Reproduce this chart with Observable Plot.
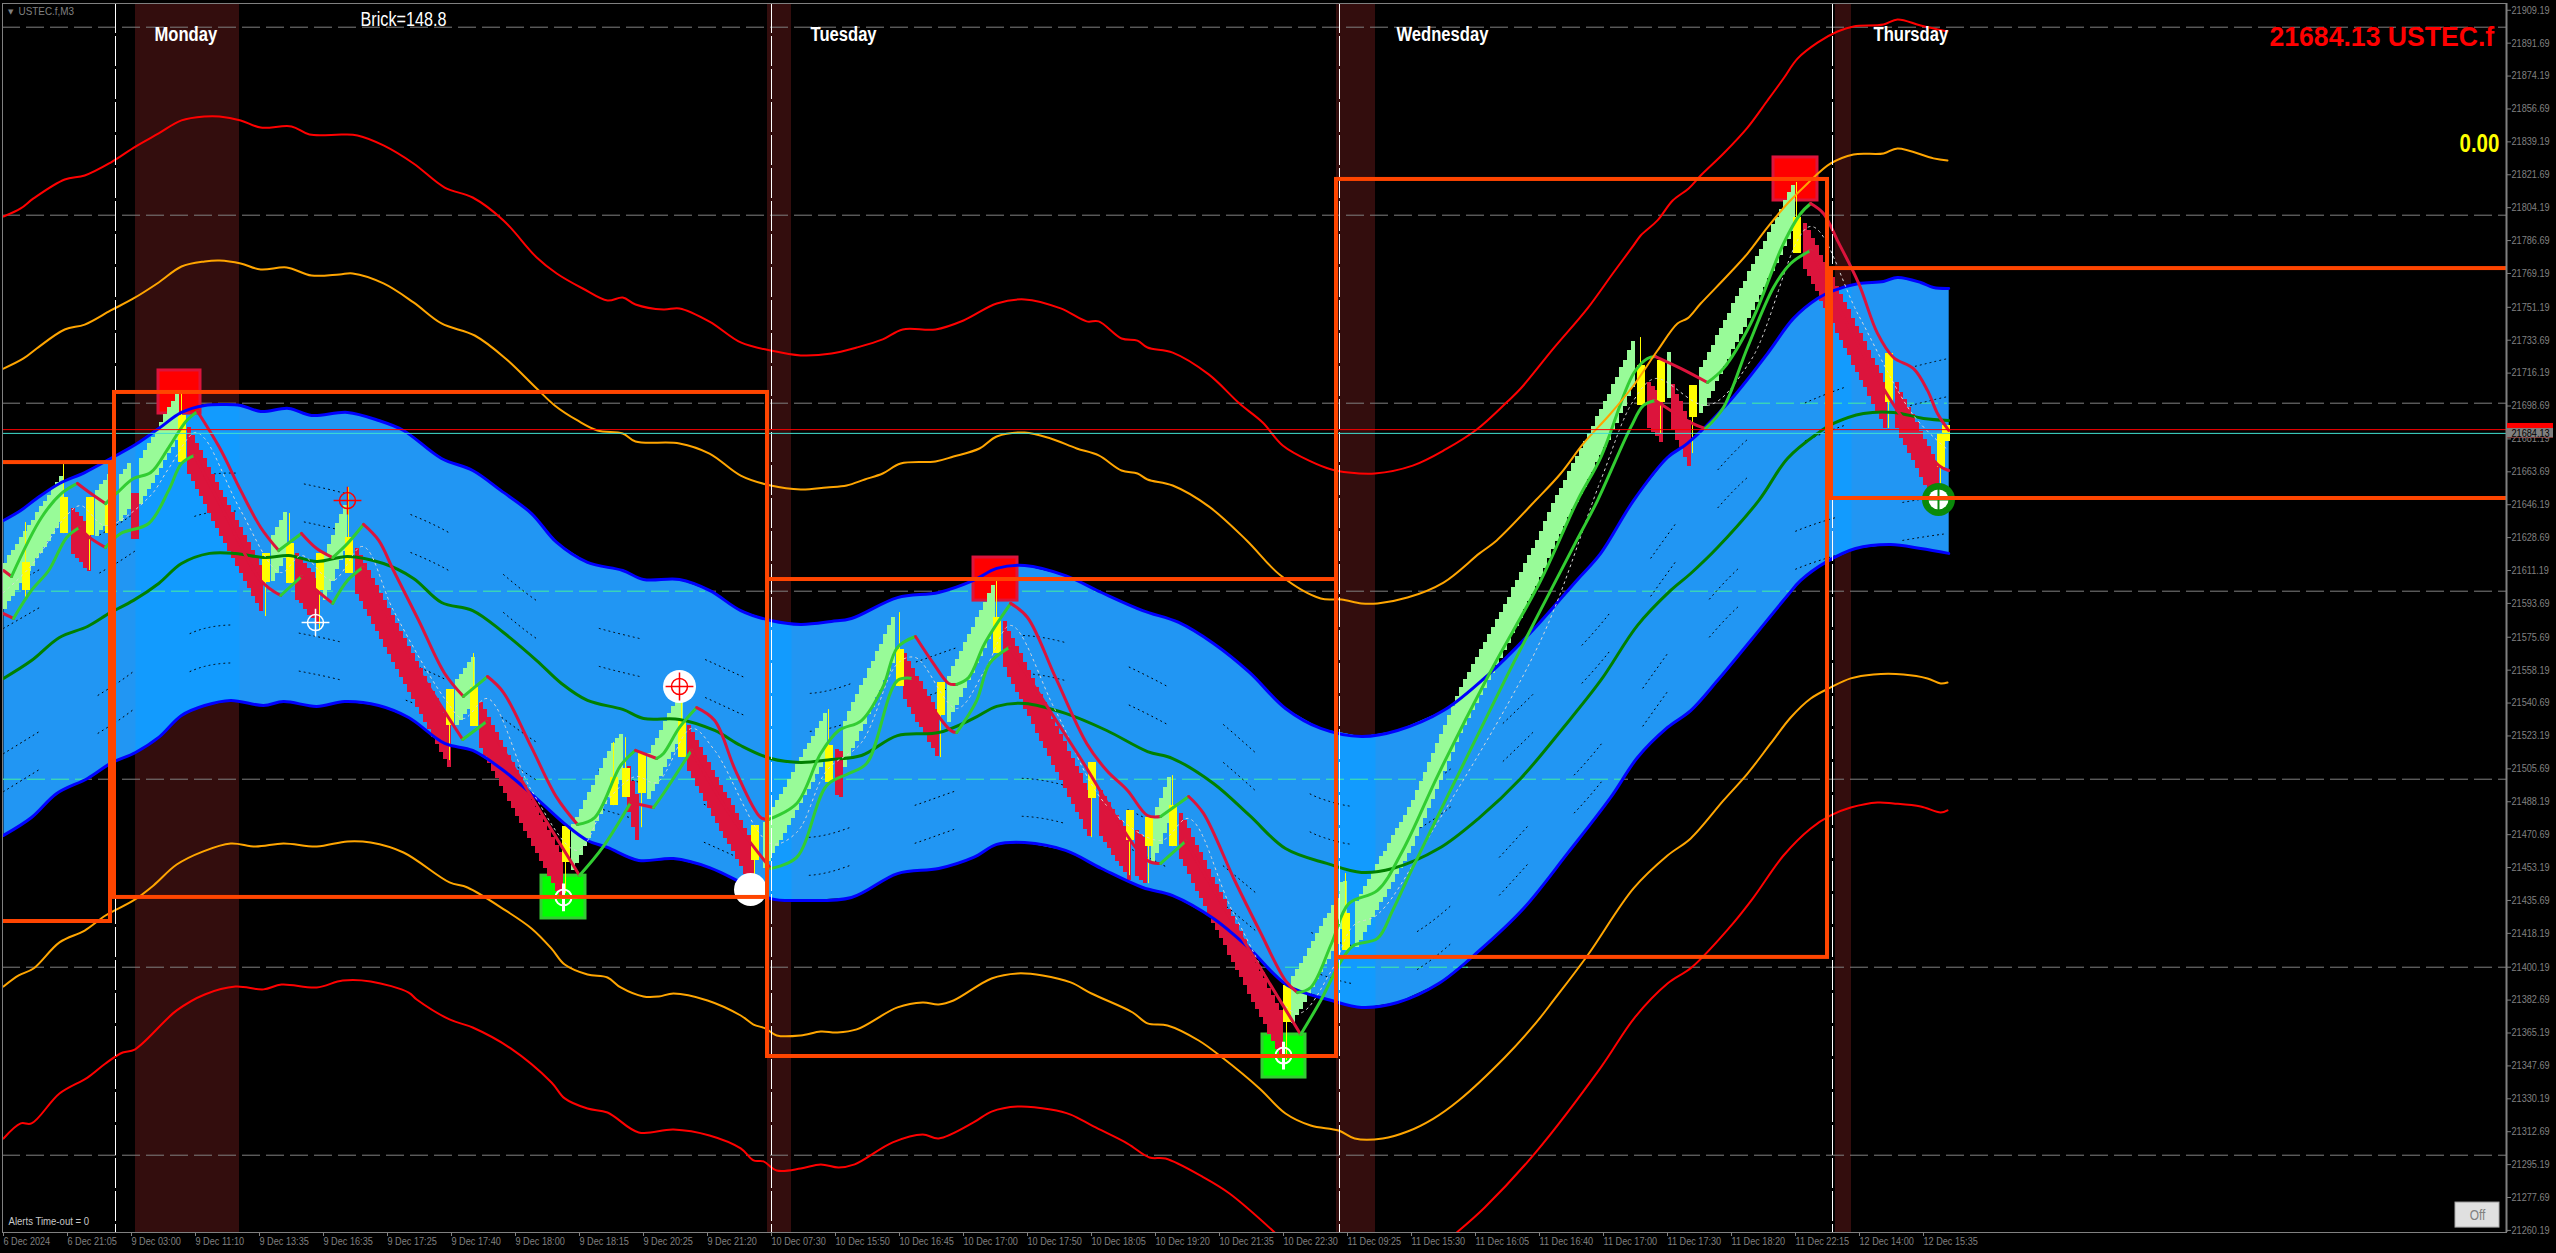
<!DOCTYPE html>
<html><head><meta charset="utf-8">
<style>html,body{margin:0;padding:0;background:#000;overflow:hidden}svg{display:block}</style>
<script src="https://cdn.jsdelivr.net/npm/d3@7"></script>
<script src="https://cdn.jsdelivr.net/npm/@observablehq/plot@0.6"></script>
</head><body><div id="c"></div>
<script>
const xTickLabels=["6 Dec 2024","6 Dec 21:05","9 Dec 03:00","9 Dec 11:10","9 Dec 13:35","9 Dec 16:35","9 Dec 17:25","9 Dec 17:40","9 Dec 18:00","9 Dec 18:15","9 Dec 20:25","9 Dec 21:20","10 Dec 07:30","10 Dec 15:50","10 Dec 16:45","10 Dec 17:00","10 Dec 17:50","10 Dec 18:05","10 Dec 19:20","10 Dec 21:35","10 Dec 22:30","11 Dec 09:25","11 Dec 15:30","11 Dec 16:05","11 Dec 16:40","11 Dec 17:00","11 Dec 17:30","11 Dec 18:20","11 Dec 22:15","12 Dec 14:00","12 Dec 15:35"];
const xTickBars=[0,16,32,48,64,80,96,112,128,144,160,176,192,208,224,240,256,272,288,304,320,336,352,368,384,400,416,432,448,464,480];
const yTicks=[21909.19,21891.69,21874.19,21856.69,21839.19,21821.69,21804.19,21786.69,21769.19,21751.19,21733.69,21716.19,21698.69,21681.19,21663.69,21646.19,21628.69,21611.19,21593.69,21575.69,21558.19,21540.69,21523.19,21505.69,21488.19,21470.69,21453.19,21435.69,21418.19,21400.19,21382.69,21365.19,21347.69,21330.19,21312.69,21295.19,21277.69,21260.19];
const gridPrices=[21900.19,21800.19,21700.19,21600.19,21500.19,21400.19,21300.19];
const gridOnBandPrice=[21700.19,21600.19,21600.19,21600.19,21500.19,21500.19,21400.19];
const gridOnBandFrom=[431.25,0,236.75,391.75,0,126.75,320.5];
const gridOnBandTo=[486,175.5,274.5,446.75,21,405,366.25];
const dayLabels=["Monday","Tuesday","Wednesday","Thursday"];
const dayLabelBars=[37.75,201.75,348.25,467.5];
const daySeparators=[28,192,334,457.25];
const shadeFrom=[33,191,333.25,458];
const shadeTo=[59,197,343,462];
const boxFrom=[-3,27.75,191,333.25,457];
const boxTo=[26.75,191,333.25,456,640];
const boxHigh=[21668.6,21705.9,21606.4,21819.2,21771.8];
const boxLow=[21424.5,21437.3,21352.7,21405.4,21649.5];

const redUpperBars=[0,4.3,7.5,15.3,20.3,26.8,33,38.8,44.5,50.3,54,59.3,64.3,72,76.5,84.8,88.5,95,102.5,110.3,117.3,125,133.3,138.3,144.8,151,154.8,158,165,169,176.5,184.3,191.8,199.3,207,213.3,219.8,224.8,233,240,248.3,255.3,264.3,270.8,273.8,279.5,283.5,286,292.3,301.3,309,314.8,319.8,326.8,332,336.3,342.8,352.3,360.5,368.3,376,379.3,387.5,396,402.5,407.5,409.3,413.5,417.3,421.3,424.3,430,436,441,445,448.5,453.5,458.5,462.5,470,473.5,479.3,486];
const redUpper=[21799.5,21803.8,21809.1,21819.2,21821.3,21828.2,21836.7,21843.7,21850.6,21852.7,21852.7,21850.6,21846.8,21847.4,21843.1,21843.1,21842.6,21837.3,21827.7,21814.9,21809.6,21797.4,21777.7,21769.2,21761.2,21754.8,21756.4,21752.7,21750,21750.6,21743.6,21732.5,21728.2,21725.6,21726.6,21729.8,21734.1,21739.4,21739.4,21744.2,21753.2,21755.4,21750.6,21743.7,21743.7,21734.6,21733.5,21729.8,21727.1,21715.5,21700,21689.9,21677.7,21669.2,21664.9,21663.3,21662.8,21667,21675.6,21686.2,21701.1,21708,21729.3,21750.6,21769.7,21784.1,21789.4,21797.4,21808,21814.4,21821.3,21833,21846.8,21861.2,21872.9,21883.5,21892,21897.9,21900.6,21901.6,21904.3,21901.1,21897.9];
const orangeUpperBars=[0,5,8.3,15.3,20.3,26.8,32.5,38.8,44.5,50.3,54,59.3,64.3,70.8,77,84,87.3,95,102.5,109.5,117.8,125.5,133.3,137.8,143.5,148.5,154.8,158,169,176.5,184.3,191.8,199.3,205.8,210.8,215.3,219.8,224.3,233,237.5,244,248.3,255.3,261.8,268.3,273.8,279.5,283.5,286,292.3,301.3,310.8,319.3,329.3,334.5,339.5,343.5,351,360,369,373.3,383,389.3,395,401.8,407.5,413.5,418.5,421,424.3,431,436,441,446,451,456.8,462.5,470,473.5,482.5,486];
const orangeUpper=[21718.6,21724,21729.3,21739.4,21742,21749.5,21755.9,21764.4,21772.9,21775.6,21776.1,21774.5,21771.3,21772.4,21768.1,21768.7,21769.2,21763.9,21753.8,21742.6,21736.2,21724,21708,21699,21691,21685.7,21684.1,21679.8,21678.8,21673.4,21661.7,21656.4,21654.3,21655.4,21656.4,21659.6,21662.8,21668.1,21669.2,21671.8,21676.1,21682.5,21684.6,21681.4,21676.1,21672.4,21664.4,21662.8,21659.6,21656.4,21645.3,21627.2,21608.5,21596.3,21595.8,21593.7,21593.7,21596.8,21604.8,21620.3,21627.2,21648.4,21662.8,21678.8,21694.7,21709.6,21728.2,21742.6,21745.3,21753.2,21768.1,21779.8,21793.7,21806.4,21817.1,21827.7,21832.5,21833,21835.7,21830.4,21829.3];
const blueUpperBars=[0,4.3,8.3,14,20.3,26.8,33,38.8,44.5,50.3,55.3,59.3,64.3,71.3,77,86,93.8,100,109.5,117.3,124.3,132,138.3,146,154.8,160,169,176.5,184.3,191.8,199.3,207,212,223.5,233.8,242.5,248.3,255.3,265.5,274.5,284.8,293.8,302.5,311.5,320.5,329.3,339.5,348.5,360,371.5,381.8,393.3,399.3,407.5,416,421,431,441,447.5,453.5,457.5,463.8,470,473.5,479.3,482.5,486.3];
const blueUpper=[21637.8,21643.1,21649.5,21657.5,21663.3,21670.8,21678.2,21686.7,21695.3,21699,21699.5,21699,21695.8,21697.4,21693.7,21695.3,21691,21685.7,21670.8,21664.4,21653.8,21641.5,21626.1,21615.5,21611.2,21606.4,21606.4,21600.6,21589.9,21584.6,21582.5,21584.1,21585.7,21596.8,21599.5,21605.9,21612.3,21613.9,21608.5,21599.5,21589.9,21583.6,21572.4,21557,21537.8,21527.2,21522.9,21526.1,21536.7,21556.4,21578.2,21605.9,21620.3,21648.4,21671.3,21678.8,21700,21726.6,21745.3,21755.9,21760.1,21763.9,21764.9,21767.1,21764.4,21761.7,21761.2];
const blueLowerBars=[0,7,13.3,21,26.8,33,38.8,44.5,50.3,56.8,65,70,78.3,85.3,93.8,101.3,110.3,117.3,125,133.3,140.8,146,151,158.8,167.5,176.5,184.3,191.8,199.3,212,223.5,233.8,242.5,248.3,255.3,265.5,274.5,284.8,292.3,302.5,311.5,321,332,339.5,348.5,358.8,369,380,391,401.8,408.5,416,421.8,428.5,436.8,446,449.3,455.5,463,471.8,479.3,486.3];
const blueLower=[21470.3,21479.8,21492.6,21500.6,21508.6,21514.4,21522.4,21534.1,21539.4,21542.1,21539.4,21541.5,21538.9,21541.5,21539.4,21533,21519.2,21515.5,21504.8,21489.9,21475.6,21467.6,21463.9,21457,21458,21453.2,21445.3,21436.7,21435.7,21437.3,21450,21452.7,21458.6,21465.5,21466.5,21462.3,21452.7,21442.6,21438.3,21426.1,21410.1,21390.5,21382.5,21378.8,21381.4,21391.5,21409.1,21431.4,21460.7,21490.5,21511.7,21527.7,21536.7,21552.7,21574,21597.9,21605.9,21615.5,21622.9,21625,21622.9,21620.3];
const midBars=[0,7,14,21,26.8,32.5,38.8,44.5,51.5,58,65.5,71.3,78.3,86,95,102.5,109.5,117.3,125,133.3,139.5,146,154.8,160,169,177.8,184.3,191.8,199.3,207,214.5,223.5,233.8,242.5,248.3,255.3,265.5,275.8,286,292.3,302.5,311.5,320.5,330.8,339.5,347.3,358.8,369,379.3,390,399.3,408.5,416.8,421.8,428.5,438.8,446,453.5,457.5,465,472.5,480,486.3];
const midTrend=[21553.8,21563.3,21575.6,21581.4,21588.9,21595.3,21604.3,21614.9,21620.3,21620.3,21618.1,21619.2,21616,21618.7,21614.9,21607,21594.2,21589.9,21578.2,21563.3,21551.1,21542.1,21537.3,21532.5,21532,21526.1,21518.1,21511.2,21509.1,21510.7,21512.8,21523.4,21525,21532.5,21538.9,21540.5,21535.2,21526.1,21514.9,21511.2,21497.9,21480.9,21463.3,21455.4,21450.6,21452.7,21463.3,21479.8,21500.6,21527.7,21552.7,21582,21600.6,21609.6,21623.4,21648.4,21670.8,21684.1,21689.4,21694.7,21695.3,21692.1,21691];
const orangeLowerBars=[0,3.8,7.5,14,20.3,25.5,32.5,37.5,43.3,49.8,56.8,63,70,78.3,86,91.8,100,111.5,116,125.5,132,137,140.3,146,151,154.3,160,163.8,167.5,176,184.3,187.5,190.5,193.3,199.3,204.3,208.3,213.3,223.5,229.8,233.8,237.5,247,253.5,259.8,266.8,272,282.3,286,291,298.8,305,314,320.5,326.8,333.8,337.8,344.8,351,357.5,363.8,375.3,383,387.5,396,407.5,416,421.8,430,436,441.8,446.8,451.8,456.8,461.8,467.5,475,481,484.3,486];
const orangeLower=[21389.9,21395.8,21399.5,21413.4,21419.7,21427.7,21435.7,21443.7,21454.8,21461.7,21466,21464.4,21466,21464.4,21467.1,21466.5,21461.2,21445.3,21442.6,21430.4,21420.8,21410.1,21401.6,21396.3,21394.7,21389.4,21384.6,21384.6,21386.2,21382.5,21374.5,21369.7,21367.6,21363.9,21363.9,21366,21365.5,21367.1,21378.8,21381.4,21380.4,21382.5,21394.2,21396.9,21395.8,21392.1,21386.2,21376.1,21370.3,21369.2,21361.2,21351.6,21335.7,21322.4,21316,21313.3,21309.1,21309.1,21312.8,21319.7,21329.3,21352.2,21370.3,21382.5,21406.4,21442.1,21459.6,21468.7,21488.9,21503.2,21519.2,21533,21543.1,21549,21553.8,21555.9,21555.9,21553.8,21551.1,21551.6];
const redLowerBars=[0,4.3,7,14,21,25.5,29.8,32.8,43.3,50.3,58,65,69.5,78.3,84.8,91.8,101.3,103.3,111.5,117.3,126.8,137,140.3,146,151,158.8,167.5,176.5,184.3,187.5,190,193.3,199.3,204.3,208.8,212.8,222.3,229.8,233.8,242.5,247,253.5,261.8,266.8,272.5,281,286.5,290.5,300,306.5,317.8,340,363.3,370.3,383,399.3,407.8,416,422,431.3,437.3,445,451.8,456.8,461.8,468.5,472.5,479.3,484.3,486];
const redLower=[21309.1,21317.1,21317.1,21333,21341.5,21349,21354.8,21356.4,21377.2,21385.7,21389.9,21388.4,21391,21389.4,21393.1,21392.6,21386.7,21383,21372.4,21368.1,21357,21338.9,21330.4,21325,21322.9,21312.3,21313.9,21310.7,21303.8,21297.4,21296.9,21292.1,21293.1,21295.3,21293.7,21295.3,21307,21311.2,21309.1,21317.6,21323.4,21326.1,21324.5,21321.8,21315.5,21306.4,21299,21298.4,21288.4,21279.8,21259.1,null,21259.1,21272.4,21301.6,21346.8,21373.4,21391.5,21400,21420.8,21436.7,21459.6,21474,21480.9,21485.1,21487.8,21487.3,21485.7,21482.5,21483.6];

const hullUpperBars=[0,2,9.5,14.5,18.5,21.5,25.5,28.5,32.5,36.8,41.3,45.8,48.5,54,59.3,64.3,68.8,74.5,78.3,82.3,86,90,93.8,97.5,103.8,110.3,115,121,125,132,138.3,143.5,147.8,154.3,158,163.3,165,169,173.3,177.8,183,189.3,191.3,198.3,204.3,208.8,214.5,219.8,223.5,228,232.5,236.3,238.3,241.3,245.3,251.8,256,263,270.8,275.8,281,286,289.3,296.3,300,307.8,314,320.5,323.5,326.8,332,336.3,343.5,349.8,358.8,371.5,384.3,393.5,399.3,407.5,411,413,419.3,426,430,436.8,445,449.3,451.8,455,458.5,463.8,468.5,472.5,477.5,481,483.5,486.3];
const hullUpper=[21611.2,21608,21639.4,21652.2,21657.5,21652.7,21646.8,21652.7,21660.1,21663.3,21676.6,21691,21695.8,21676.6,21653.8,21634.1,21621.8,21630.9,21622.9,21618.1,21625.6,21635.7,21627.2,21611.2,21584.6,21556.4,21544.2,21554.8,21546.3,21517.1,21490.5,21476.1,21479.8,21507.5,21515.5,21511.2,21513.9,21527.7,21538.3,21531.4,21504.8,21479.8,21478.8,21487.3,21513.9,21526.1,21531.4,21549,21570.3,21576.1,21561.7,21551.1,21550.6,21554.3,21572.4,21593.7,21586.2,21554.3,21519.2,21504.8,21494.2,21480.9,21480.4,21491,21482,21446.3,21419.7,21393.1,21386.7,21389.4,21412.8,21434,21441,21462.3,21503.2,21556.4,21605.9,21648.4,21671.3,21716,21724,21725,21718.7,21711.2,21718.7,21742.6,21785.1,21801.1,21806.4,21801.1,21786.7,21763.9,21737.3,21724.5,21718.6,21707,21694.7,21685.7];
const hullUpperTrend="r"+"ggg"+"rr"+"gggggg"+"rrrr"+"g"+"rr"+"gg"+"rrrrr"+"g"+"rrrr"+"ggg"+"r"+"ggg"+"rrrr"+"ggggggg"+"rrr"+"ggg"+"rrrrrrr"+"g"+"rrrrr"+"ggggggggggggg"+"rr"+"ggggg"+"rrrrrrrrrr";
const hullLowerBars=[0,2.5,7,11.3,15.8,19,21.5,25.5,29.3,36.3,41.3,44.5,47.8,55.5,64.3,69.3,74.5,78.3,82.3,86,89.8,99.3,114.8,120.8,131.8,144,149.8,156.8,162.5,165,172,181.8,191.8,198.3,205.8,211.3,215.8,223.5,227.3,236.8,238.3,243.3,246.5,251.5,268.8,286,289.3,295.5,309.3,324.3,329.3,334.5,337.5,343.5,347.3,352.3,363.8,377.8,393.3,398.5,406.8,410,413,421.8,425.5,430,436,442.5,446.8,451.8,463.8,474.3,483.8,486.3];
const hullLower=[21588.3,21585.7,21600.6,21611.2,21628.8,21634.1,21628.8,21623.4,21630.9,21636.2,21653.8,21668.1,21672.4,21641,21605.9,21597.9,21608,21600.6,21593.7,21605.9,21612.8,21574,21521.3,21530.9,21491.5,21449,21463.9,21487.8,21485.1,21492.6,21515.5,21480.9,21452.7,21458.6,21496.8,21503.2,21508.6,21552.7,21553.8,21526.1,21525,21542,21561.7,21570.3,21512.8,21456.9,21455.4,21467.1,21417.1,21364.4,21382.5,21403.8,21411.7,21415.5,21430.4,21453.2,21503.2,21563.3,21627.2,21648.4,21687.3,21699,21701.6,21689.9,21686.7,21697.9,21729.8,21761.7,21774.5,21781.4,21730.9,21693.7,21667.1,21664.4];
const hullLowerTrend="r"+"gggg"+"rr"+"ggggg"+"rrr"+"g"+"rr"+"gg"+"rr"+"g"+"rr"+"gg"+"r"+"gg"+"rr"+"gggggg"+"rr"+"ggg"+"rrr"+"g"+"rr"+"ggggggggggggg"+"rr"+"ggggg"+"rrrrr";
const hullMidBars=[0,7,15.8,19.3,25.5,36.3,41.3,47.8,50.3,59.3,69.3,74.5,82.3,89.8,97.5,110.3,115,121,132,143.5,151,158,163.3,172,177.8,191.8,198.3,205.8,214.5,223.5,228,238.3,245.3,251.8,263,275.8,289.3,296.3,307.8,323.5,332,337.5,343.5,358.8,384.3,399.3,407.5,413,426,436.8,451.8,463.8,477.5,486.3];
const hullMid=[21599.5,21613.9,21640.5,21645.7,21635.1,21650,21665.5,21684.6,21681.4,21643.1,21610.1,21619.2,21605.9,21624,21589.9,21543.1,21532.5,21543.1,21494.2,21462.3,21488.9,21501.6,21498.4,21527.2,21515.5,21466,21471.9,21504.8,21519.7,21561.7,21564.9,21537.8,21558,21582,21536.7,21486.2,21467.6,21479.3,21427.7,21375.6,21398.4,21422.4,21428.2,21478.2,21574,21659.1,21701.6,21713.3,21699,21722.9,21794.2,21746.8,21693.7,21675];

const dottedBars=[0,26.8,50.3,77,109.5,138.3,169,199.3,223.5,255.3,293.8,329.3,348.5,393.3,441,486.3];
const dottedA=[21600.6,21633.5,21661.7,21656.4,21633.5,21588.8,21569.2,21545.8,21559.6,21576.6,21546.3,21489.9,21488.8,21568.6,21689.4,21724];
const dottedB=[21580.4,21613.3,21641.5,21636.2,21613.3,21568.6,21549,21525.6,21539.4,21556.4,21526.1,21469.7,21468.6,21548.4,21669.2,21703.8];
const dottedC=[21513.8,21549,21580.4,21576.6,21554.3,21513.8,21492,21469.2,21483.5,21500.6,21470.3,21416.5,21413.9,21503.8,21624.5,21651.1];
const dottedD=[21493.6,21528.8,21560.2,21556.4,21534.1,21493.6,21471.8,21449,21463.3,21480.4,21450.1,21396.3,21393.7,21483.6,21604.3,21630.9];

const brickBody=24.5;
const greenStart=[0,23,29,34,67,80,113,142,153,161,190,210,236,287,322,334,338,416,424];
const greenTops=[
[21615,21619,21622,21625,21629,21632,21635,21638,21642,21645,21648,21651,21655,21658,21661],
[21654,21657,21659,21662,21664],[21662,21665,21668],
[21671,21675,21679,21682,21686,21690,21694,21698,21701,21705],
[21630,21634,21638,21642],[21620,21625,21630,21636,21641,21646],[21553,21556,21559,21562,21565],
[21476,21480,21484,21489,21493,21497,21502,21506,21511,21515,21519],[21522,21524],
[21514,21518,21522,21526,21531,21535,21539,21543,21547],
[21477,21481,21485,21489,21492,21496,21500,21504,21508,21512,21516,21519,21523,21527,21531,21535],
[21531,21536,21541,21545,21550,21554,21559,21563,21568,21572,21577,21582,21586],
[21555,21560,21564,21568,21573,21577,21581,21586,21590,21594,21599,21603],
[21480,21485,21490,21496,21501],
[21395,21399,21402,21406,21410,21414,21418,21422,21426,21429,21433,21437],[21445,21446],
[21435,21439,21443,21447,21451,21455,21459,21462,21466,21470,21474,21477,21481,21485,21489,21494,21499,21504,21509,21514,21519,21524,21529,21534,21539,21544,21549,21553,21557,21561,21565,21569,21573,21577,21581,21585,21589,21593,21597,21602,21606,21610,21615,21619,21623,21627,21632,21637,21642,21647,21651,21655,21659,21664,21668,21672,21676,21680,21684,21688,21693,21697,21701,21705,21710,21714,21719,21723,21728,21733],
[21727],
[21719,21723,21727,21731,21736,21740,21744,21748,21753,21757,21761,21765,21770,21774,21778,21782,21786,21791,21795,21799,21803,21808,21812,21816]];
const redStart=[17,32,46,73,88,119,156,171,208,225,250,274,283,294,411,417,450,473];
const redTops=[
[21644,21642,21640,21637,21635],[21652,21652],
[21687,21683,21679,21675,21671,21666,21662,21658,21654,21650,21646,21642,21638,21634,21630,21626,21622,21618,21614],
[21620,21618,21615,21612,21610,21607],
[21623,21619,21615,21611,21607,21603,21599,21595,21591,21587,21583,21579,21575,21571,21567,21563,21559,21555,21551,21547,21543,21539,21535,21531],
[21541,21537,21533,21529,21525,21521,21517,21513,21509,21505,21501,21497,21493,21489,21485,21481,21477,21473,21469,21465,21461],
[21507,21499,21492],
[21529,21525,21521,21517,21513,21509,21505,21501,21497,21493,21490,21486,21482,21478,21474,21470,21466],
[21516,21515],[21567,21563,21559,21555,21552,21548,21544,21541,21537],
[21584,21579,21575,21571,21567,21562,21558,21554,21549,21545,21541,21537,21532,21528,21524,21520,21515,21511,21507,21503,21498,21494],
[21494,21491,21488,21484,21481,21478,21475,21471],[21473,21471,21469],
[21482,21478,21474,21469,21465,21461,21457,21452,21448,21444,21440,21436,21431,21427,21423,21419,21415,21410,21406,21402,21398,21394,21389,21385,21381,21377],
[21711,21709,21707,21704],[21710,21705,21701,21696,21691],
[21796,21792,21788,21784,21779,21775,21771,21767,21762,21758,21754,21750,21745,21741,21737,21733,21728,21724,21720,21716,21711],
[21711,21706,21702,21698,21694,21690,21685,21681,21677,21673,21669]];
const dojiBars=[4.75,14.25,20.75,25.5,43.75,64.75,70.75,78.25,85.5,110.75,116.75,139.75,151.75,154.75,158.75,168.75,187,205.5,223.25,233.5,247.5,271.25,280.75,285.5,291.5,320,334.75,408.5,413.5,421.5,447.5,470.5,483.5,484.75];
const dojiHigh=[21615.4,21650,21650,21645.7,21693.6,21620.2,21625.5,21620.2,21628.7,21547.9,21548.9,21475,21501,21505.8,21513.8,21531.4,21475.5,21518.1,21569.1,21551.6,21586.2,21509,21483.5,21479.8,21486.1,21390.4,21428.7,21720.2,21722.9,21709.6,21799,21726.6,21684,21688.3];
const dojiLow=[21600.5,21630.8,21629.8,21630.8,21668.6,21604.8,21604.2,21600.5,21609.6,21528.7,21528.2,21455.8,21486.1,21490.4,21492.5,21511.7,21456.9,21498.4,21549.4,21534,21567,21489.9,21467.5,21464.3,21464.3,21370.7,21409,21698.9,21700.5,21692.6,21779.8,21700.5,21665.9,21680];
const wickHigh=[21636.7,21668.1,21650,21663.3,21705.3,21620.2,21641.5,21620.2,21655.3,21547.9,21567,21475,21519.7,21522.3,21513.8,21547.3,21475.5,21537.2,21588.8,21551.6,21605.8,21509,21483.5,21479.8,21502.1,21390.4,21450,21735.1,21722.9,21709.6,21817.6,21726.6,21684,21688.3];
const wickLow=[21596.8,21630.8,21611.2,21630.8,21668.6,21586.7,21604.2,21579.2,21609.6,21510.1,21528.2,21439.3,21486.1,21490.4,21474.4,21511.7,21444.6,21498.4,21549.4,21511.7,21567,21469.1,21448.9,21444.6,21464.3,21350.5,21409,21698.9,21684,21673.4,21779.8,21686.7,21653.7,21680];

const redSquareFrom=[38.75,242.5,442.5],redSquareTo=[49.25,253.5,453.5],redSquareHigh=[21717.6,21618.1,21830.9],redSquareLow=[21694.7,21595.2,21808];
const greenSquareFrom=[134.5,314.75],greenSquareTo=[145.5,325.5],greenSquareHigh=[21448.9,21364.4],greenSquareLow=[21426.1,21341.5];
const redMarkBars=[86],redMarkPrices=[21648.4];
const whiteMarkBars=[78],whiteMarkPrices=[21583.5];
const discBars=[169,186.75],discPrices=[21549.5,21441.5];
const arrowBars=[140,320],arrowPrices=[21437.3,21353.2];
const signalBar=[483.75],signalPrice=[21649];
const bidPrice=21684.13,askPrice=21686.13;

const C={r:"#dc143c",g:"#32cd32"};
const sans='"Liberation Sans",sans-serif';
const smooth="catmull-rom";
const idx=a=>a.map((_,i)=>i);
const ln=(xs,ys,stroke,w,extra={})=>Plot.line(idx(ys),{x:i=>xs[i],y:i=>ys[i],stroke,strokeWidth:w,clip:true,curve:smooth,...extra});
const hull=(xs,ys,trend)=>Plot.line(idx(ys),{x:i=>xs[i],y:i=>ys[i],z:null,stroke:i=>C[trend[i]],strokeWidth:3,clip:true,curve:smooth});
const bricks=(starts,tops,fill)=>{const d=starts.flatMap((s,k)=>tops[k].map((t,j)=>[s+j,t]));
  return Plot.rect(d,{x1:e=>e[0],x2:e=>e[0]+1,y1:e=>e[1],y2:e=>e[1]-brickBody,fill,shapeRendering:"crispEdges",clip:true});};
const band=[...blueUpper.map((p,i)=>[blueUpperBars[i],p]),...blueLower.map((p,i)=>[blueLowerBars[i],p]).reverse()];
const upEdge=d3.scaleLinear(blueUpperBars,blueUpper),loEdge=d3.scaleLinear(blueLowerBars,blueLower);
const shadeBand=shadeFrom.map((a,k)=>{const b=shadeTo[k];
  return [[a,upEdge(a)],...blueUpper.map((p,i)=>[blueUpperBars[i],p]).filter(e=>e[0]>a&&e[0]<b),[b,upEdge(b)],[b,loEdge(b)],...blueLower.map((p,i)=>[blueLowerBars[i],p]).filter(e=>e[0]>a&&e[0]<b).reverse(),[a,loEdge(a)]];});
const T=(s,x,y,o)=>Plot.text([s],{x:()=>x,y:()=>y,text:d=>d,textAnchor:"start",fontFamily:sans,...o});
const labelMap=new Map(xTickBars.map((b,i)=>[b,xTickLabels[i]]));
const dotted=ys=>ln(dottedBars,ys,"#000",1,{strokeDasharray:"1,4,1,4,1,4,1,4,1,4,1,4,1,4,1,4,1,70"});

const chart=Plot.plot({width:2556,height:1253,marginLeft:2,marginRight:50,marginTop:3,marginBottom:21,
 x:{domain:[-.25,625.75],axis:null},y:{domain:[21259.08,21912.79],axis:null},
 style:{background:"#000",color:"#808080",display:"block"},
 marks:[
  Plot.rect(idx(shadeFrom),{x1:i=>shadeFrom[i],x2:i=>shadeTo[i],y1:21259.08,y2:21912.79,fill:"#330d0d"}),
  Plot.ruleY(gridPrices,{stroke:"#808080",strokeDasharray:"18,6"}),
  Plot.line(band,{x:d=>d[0],y:d=>d[1],fill:"#2196f3",stroke:"none"}),
  ...shadeBand.map(s=>Plot.line(s,{x:d=>d[0],y:d=>d[1],fill:"#129bfe",stroke:"none"})),
  Plot.ruleY(idx(gridOnBandPrice),{y:i=>gridOnBandPrice[i],x1:i=>gridOnBandFrom[i],x2:i=>gridOnBandTo[i],stroke:"#45f0a0",strokeDasharray:"18,6"}),
  dotted(dottedA),dotted(dottedB),dotted(dottedC),dotted(dottedD),
  Plot.rect(idx(redSquareFrom),{x1:i=>redSquareFrom[i],x2:i=>redSquareTo[i],y1:i=>redSquareLow[i],y2:i=>redSquareHigh[i],fill:"#ff0000",stroke:C.r,strokeWidth:3}),
  Plot.rect(idx(greenSquareFrom),{x1:i=>greenSquareFrom[i],x2:i=>greenSquareTo[i],y1:i=>greenSquareLow[i],y2:i=>greenSquareHigh[i],fill:"#00ff00",stroke:C.g,strokeWidth:3}),
  bricks(greenStart,greenTops,"#98fb98"),
  bricks(redStart,redTops,C.r),
  Plot.ruleX(idx(dojiBars),{x:i=>dojiBars[i]+.75,y1:i=>wickLow[i],y2:i=>wickHigh[i],stroke:"#ffff00",strokeWidth:1}),
  Plot.rect(idx(dojiBars),{x1:i=>dojiBars[i],x2:i=>dojiBars[i]+2,y1:i=>dojiLow[i],y2:i=>dojiHigh[i],fill:"#ffff00",shapeRendering:"crispEdges"}),
  ln(blueUpperBars,blueUpper,"#0000ff",3),ln(blueLowerBars,blueLower,"#0000ff",3),
  ln(midBars,midTrend,"#008000",3),
  ln(hullMidBars,hullMid,"#d8d8d8",1,{strokeDasharray:"2,4"}),
  hull(hullUpperBars,hullUpper,hullUpperTrend),hull(hullLowerBars,hullLower,hullLowerTrend),
  ln(redUpperBars,redUpper,"#ff0000",2),ln(orangeUpperBars,orangeUpper,"#ffa500",2),
  ln(orangeLowerBars,orangeLower,"#ffa500",2),ln(redLowerBars,redLower,"#ff0000",2),
  Plot.ruleX(daySeparators,{stroke:"#fff",strokeDasharray:"30,3"}),
  Plot.ruleY([askPrice],{stroke:"#ff0000"}),Plot.ruleY([bidPrice],{stroke:"#40e0d0"}),
  Plot.dot(idx(discBars),{x:i=>discBars[i],y:i=>discPrices[i],r:16.5,fill:"#fff"}),
  Plot.dot(idx(redMarkBars),{x:i=>redMarkBars[i],y:i=>redMarkPrices[i],r:8,stroke:"#ff0000",fill:"none"}),
  Plot.dot(idx(redMarkBars),{x:i=>redMarkBars[i],y:i=>redMarkPrices[i],r:9,symbol:"plus",stroke:"#ff0000"}),
  Plot.dot(idx(whiteMarkBars),{x:i=>whiteMarkBars[i],y:i=>whiteMarkPrices[i],r:8,stroke:"#fff",fill:"none"}),
  Plot.dot(idx(whiteMarkBars),{x:i=>whiteMarkBars[i],y:i=>whiteMarkPrices[i],r:9,symbol:"plus",stroke:"#fff"}),
  Plot.dot([0],{x:()=>discBars[0],y:()=>discPrices[0],r:8,stroke:"#ff0000",fill:"none"}),
  Plot.dot([0],{x:()=>discBars[0],y:()=>discPrices[0],r:9,symbol:"plus",stroke:"#ff0000"}),
  Plot.dot(idx(arrowBars),{x:i=>arrowBars[i],y:i=>arrowPrices[i],r:8,stroke:"#fff",strokeWidth:2,fill:"none"}),
  Plot.dot(idx(arrowBars),{x:i=>arrowBars[i],y:i=>arrowPrices[i],r:9,symbol:"plus",stroke:"#fff",strokeWidth:3}),
  Plot.dot(signalBar,{x:d=>d,y:()=>signalPrice[0],r:16.5,fill:"#0a8a0a"}),
  Plot.dot(signalBar,{x:d=>d,y:()=>signalPrice[0],r:10,fill:"#fff"}),
  Plot.dot(signalBar,{x:d=>d,y:()=>signalPrice[0],r:7,symbol:"plus",stroke:"#0a8a0a",strokeWidth:2}),
  Plot.rect(idx(boxFrom),{x1:i=>boxFrom[i],x2:i=>boxTo[i],y1:i=>boxLow[i],y2:i=>boxHigh[i],fill:"none",stroke:"#ff4500",strokeWidth:4,clip:true}),
  Plot.frame({stroke:"#808080"}),
  Plot.ruleX([625.75],{stroke:"#808080",strokeWidth:2}),
  Plot.axisY(yTicks,{anchor:"right",tickSize:4,tickPadding:1,tickFormat:d=>d.toFixed(2),fontSize:10.5,fontFamily:sans,stroke:"#808080",fill:"#808080",label:null}),
  Plot.axisX(xTickBars,{anchor:"bottom",tickSize:4,tickPadding:1,tickFormat:d=>labelMap.get(d),textAnchor:"start",fontSize:10.5,fontFamily:sans,stroke:"#808080",fill:"#808080",label:null}),
  Plot.rect([0],{x1:626,x2:637.5,y1:21681.7,y2:21689.4,fill:"#ff0000"}),
  Plot.rect([0],{x1:626,x2:637.5,y1:21681.7,y2:21686.7,fill:"#808080"}),
  T("21684.13",627,bidPrice,{fill:"#000",fontSize:10.5}),
  ...dayLabels.map((s,i)=>T(s,dayLabelBars[i],21896.3,{fill:"#fff",fontSize:20,fontWeight:"bold"})),
  T("Brick=148.8",89.25,21904.3,{fill:"#fff",fontSize:20}),
  T("21684.13 USTEC.f",566.5,21894.7,{fill:"#ff0000",fontSize:28,fontWeight:"bold"}),
  T("0.00",614,21838.3,{fill:"#ffff00",fontSize:25,fontWeight:"bold"}),
  T("Alerts Time-out = 0",1.25,21264.9,{fill:"#c8c8c8",fontSize:11}),
  T("USTEC.f,M3",3.75,21908.5,{fill:"#808080",fontSize:11}),
  T("▼",1.1,21908.5,{fill:"#808080",fontSize:7,fontFamily:'"DejaVu Sans",sans-serif'}),
  Plot.rect([0],{x1:613,x2:624,y1:21261.7,y2:21275,fill:"#e0e0e0",stroke:"#a8a8a8"}),
  T("Off",618.5,21268.1,{textAnchor:"middle",fill:"#808080",fontSize:14})
 ]});
document.getElementById("c").appendChild(chart);
// the reference's terminal font is condensed: narrow each label to the reference's measured width
const squeeze=new Map([["Brick=148.8",.81],["21684.13 USTEC.f",.95],["0.00",.82],["USTEC.f,M3",.9],["Off",.85],["▼",1]]);
dayLabels.forEach(d=>squeeze.set(d,.83));
chart.querySelectorAll("text").forEach(t=>{
  if(t.querySelector("tspan"))return;
  const f=squeeze.get(t.textContent)??.87;
  if(f<1){t.setAttribute("textLength",(t.getComputedTextLength()*f).toFixed(1));t.setAttribute("lengthAdjust","spacingAndGlyphs");}
});
</script></body></html>
